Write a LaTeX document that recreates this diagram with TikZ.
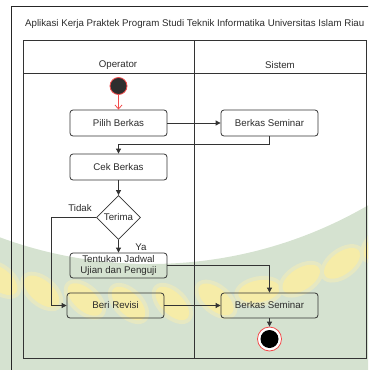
\documentclass[tikz,border=0pt]{standalone}
\usepackage{fontspec}
\setmainfont{Liberation Sans}
\usetikzlibrary{shapes.geometric,arrows.meta}
\definecolor{ink}{HTML}{333333}
\definecolor{txt}{HTML}{2B2B2B}
\definecolor{startred}{HTML}{F24C4C}
\definecolor{wmgreen}{HTML}{D5E2D0}
\definecolor{wmyellow}{HTML}{F6ECA8}
\definecolor{wmsoft}{HTML}{E6E8C2}

\begin{document}
\begin{tikzpicture}[x=1pt,y=-1pt,
  every node/.style={font=\fontsize{9.7}{10.6}\selectfont, text=txt},
  action/.style={draw=ink, rounded corners=3pt, minimum width=97pt, minimum height=26pt,
    inner sep=0pt, line width=0.8pt, align=center},
  decision/.style={draw=ink, diamond, aspect=1, minimum size=44pt, inner sep=0pt, line width=0.8pt},
  flow/.style={draw=ink, line width=0.8pt, -{Triangle[length=5pt,width=5pt]}},
  lane/.style={draw=ink, line width=0.9pt},
]
\useasboundingbox (0,0) rectangle (368,370);

% faint logo watermark in the background
\begin{scope}
  \clip (0,0) rectangle (368,370);
  \fill[wmgreen, even odd rule] (-10,-10) rectangle (380,380) (150,-170) circle[radius=434];
  \begin{scope}[shift={(150,-170)}]
    % leaves around the lower rim: position angle / slant on the page
    \foreach \a/\s in {-23.8/38,-18.5/38,-13.2/40,-7.9/42,-2.6/45,2.7/45,8.0/40,13.3/-10,18.6/-32,23.9/-37,29.2/-40} {
      \fill[wmsoft, shift={(90-\a:474)}, rotate=-\s] (0,0) ellipse [x radius=25, y radius=15];
      \fill[wmyellow, shift={(90-\a:474)}, rotate=-\s] (0,0) ellipse [x radius=21, y radius=11];
    }
  \end{scope}
  % page frame
  \draw[black!85, line width=0.8pt] (11,380) -- (11,6) -- (380,6);
\end{scope}

% title
\node[anchor=west, inner sep=0pt] (title) at (25,24)
  {Aplikasi Kerja Praktek Program Studi Teknik Informatika Universitas Islam Riau};

% swimlanes
\draw[lane] (23,40) rectangle (366,358);
\draw[lane] (23,73) -- (366,73);
\draw[lane] (194,40) -- (194,358);
\node (hop) at (118,65) {Operator};
\node (hsis) at (280,65) {Sistem};

% activity nodes
\node[circle, fill=black!82, draw=startred, line width=0.8pt, minimum size=17pt, inner sep=0pt] (start) at (118.5,86) {};
\node[action] (pilih) at (118.5,123) {Pilih Berkas};
\node[action] (bs1) at (269.5,123) {Berkas Seminar};
\node[action] (cek) at (118.5,167) {Cek Berkas};
\node[decision] (dia) at (118.5,217.5) {Terima};
\node[action, minimum height=25pt] (tent) at (118.5,265.5) {Tentukan Jadwal\\Ujian dan Penguji};
\node[action, minimum height=25pt] (beri) at (115.5,305.5) {Beri Revisi};
\node[action, minimum height=25pt] (bs2) at (269.5,305.5) {Berkas Seminar};
\node[circle, draw=startred, fill=white, line width=0.8pt, minimum size=24pt, inner sep=0pt] (stop) at (269.5,339) {};
\fill[black] (stop.center) circle[radius=9];
\coordinate (tbend) at (51,0);

% guard labels
\node (tidak) at (80,208) {Tidak};
\node (ya) at (141,247) {Ya};

% flows
\draw[startred, line width=0.8pt, -{Straight Barb[length=4pt,width=7pt]}] (start) -- (pilih);
\draw[flow] (pilih) -- (bs1);
\draw[flow] (bs1.south) -- ++(0,8) -| (cek.north);
\draw[flow] (cek) -- (dia);
\draw[flow] (dia.west) -- (dia.west -| tbend) |- (beri.west);
\draw[flow] (dia) -- (tent);
\draw[flow] (tent.east) -| (bs2.north);
\draw[flow] (beri) -- (bs2);
\draw[flow] (bs2) -- (stop);
\end{tikzpicture}
\end{document}
